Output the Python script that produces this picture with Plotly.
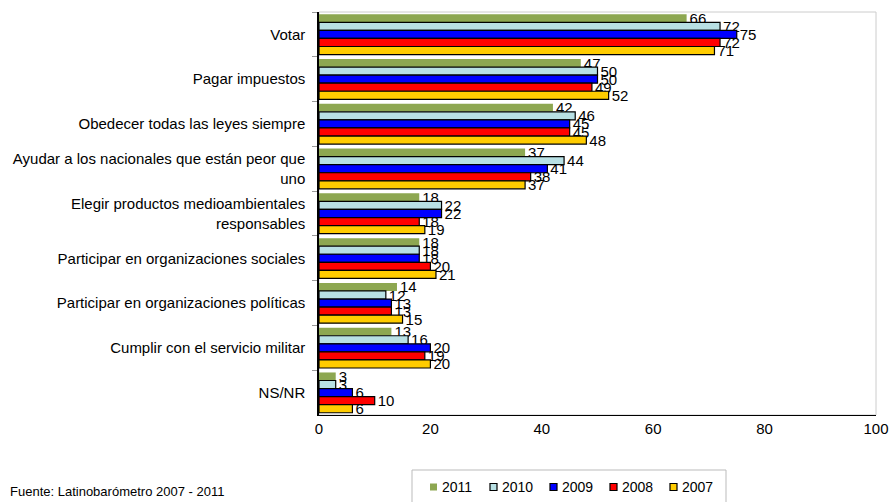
import plotly.graph_objects as go

categories = [
    "Votar",
    "Pagar impuestos",
    "Obedecer todas las leyes siempre",
    "Ayudar a los nacionales que están peor que<br>uno",
    "Elegir productos medioambientales<br>responsables",
    "Participar en organizaciones sociales",
    "Participar en organizaciones políticas",
    "Cumplir con el servicio militar",
    "NS/NR",
]
years = ["2011", "2010", "2009", "2008", "2007"]
v2011 = [66, 47, 42, 37, 18, 18, 14, 13, 3]
v2010 = [72, 50, 46, 44, 22, 18, 12, 16, 3]
v2009 = [75, 50, 45, 41, 22, 18, 13, 20, 6]
v2008 = [72, 49, 45, 38, 18, 20, 13, 19, 10]
v2007 = [71, 52, 48, 37, 19, 21, 15, 20, 6]
series = [v2011, v2010, v2009, v2008, v2007]
colors = ["#8DA751", "#B8E0E4", "#0000FF", "#FF0000", "#FFCC00"]
outline = [0, 1.2, 1.2, 1.2, 1.2]

# layout geometry (page pixels; body margin removed below)
W, H = 891, 502
L, R, T, B = 319, 15, 12, 87
PW, PH = W - L - R, H - T - B


def px(x):
    return (x - L) / PW


def py(y):
    return (H - B - y) / PH


fig = go.Figure()
for name, vals, col, lw in zip(years, series, colors, outline):
    fig.add_trace(go.Bar(
        y=categories, x=vals, name=name, orientation="h",
        marker=dict(color=col, line=dict(color="black", width=lw)),
        text=[str(v) for v in vals], textposition="outside",
        constraintext="none", cliponaxis=False,
        textfont=dict(family="Liberation Sans, Arial", size=15, color="black"),
        showlegend=False, hoverinfo="skip",
    ))

shapes = [dict(type="rect", xref="paper", yref="paper", x0=0, x1=1, y0=0, y1=1,
               line=dict(color="#CCCCCC", width=1), layer="below"),
          dict(type="rect", xref="paper", yref="paper",
               x0=px(412), x1=px(726), y0=py(530), y1=py(470),
               line=dict(color="#BBBBBB", width=1), fillcolor="white")]
annotations = [dict(text="Fuente: Latinobarómetro 2007 - 2011", xref="paper", yref="paper",
                    x=px(8), xanchor="left", y=py(501), yanchor="bottom",
                    showarrow=False, font=dict(size=13))]
for i, (name, col, lw) in enumerate(zip(years, colors, outline)):
    sx = 430 + 60 * i
    shapes.append(dict(type="rect", xref="paper", yref="paper",
                       x0=px(sx), x1=px(sx + 7), y0=py(490.5), y1=py(483.5),
                       fillcolor=col, line=dict(color="black", width=lw)))
    annotations.append(dict(text=name, xref="paper", yref="paper",
                            x=px(sx + 10), xanchor="left", y=py(487), yanchor="middle",
                            showarrow=False, font=dict(size=14)))

fig.update_layout(
    width=W, height=H,
    margin=dict(l=L, r=R, t=T, b=B),
    paper_bgcolor="white", plot_bgcolor="white",
    barmode="group", bargap=0.1, bargroupgap=0,
    font=dict(family="Liberation Sans, Arial", size=15, color="black"),
    showlegend=False,
    xaxis=dict(range=[0, 100], dtick=20, showgrid=False, zeroline=False,
               showline=True, linecolor="black", linewidth=1,
               ticks="", tickfont=dict(size=15), automargin=False),
    yaxis=dict(autorange="reversed", showgrid=False, showline=True,
               linecolor="black", linewidth=1.5, ticks="outside",
               tickson="boundaries", ticklen=5, tickcolor="#999999",
               ticklabelstandoff=9, tickfont=dict(size=15), automargin=False),
    shapes=shapes,
    annotations=annotations,
)

fig.write_html("out.html", config={"displayModeBar": False},
               post_script="document.body.style.margin='0';document.body.style.overflow='hidden';")
